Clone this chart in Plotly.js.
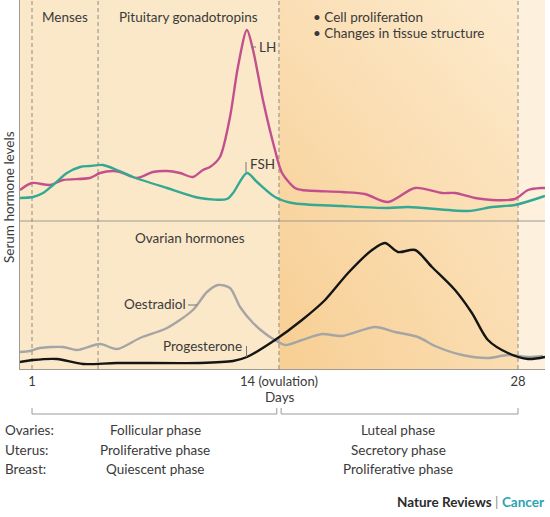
<!DOCTYPE html>
<html>
<head>
<meta charset="utf-8">
<script src="https://cdn.plot.ly/plotly-3.0.1.min.js"></script>
<style>html,body{margin:0;padding:0;background:#fff;}#chart{width:550px;height:517px;}</style>
</head>
<body>
<div id="chart"></div>
<script>
// ---- Data (days of cycle, arbitrary hormone levels) ----
const lhDay   = [0.33,1.0,2.0,2.72,4.22,4.78,5.5,5.89,6.83,7.72,8.5,9.22,9.94,10.5,10.89,11.44,12.0,12.44,12.94,13.28,13.83,14.5,14.89,15.61,16.0,18.22,19.5,20.78,22.28,23.78,24.5,25.61,26.56,27.83,28.56,29.33,29.5];
const lhLevel = [31,38,36,41,43,48,50,49,43,49,50,48,44,51,54,64,104,154,191,171,121,71,48,33,31,29,27,19,33,28,28,23,21,22,31,33,33];

const fshDay   = [0.33,1.06,1.61,2.17,2.94,3.67,4.22,4.94,5.72,6.61,8.5,10.33,11.83,12.17,12.94,13.5,14.5,15.44,18.22,20.78,21.89,25.22,26.56,27.83,29.33,29.5];
const fshLevel = [23,24,28,36,48,54,55,56,51,44,33,23,22,28,48,39,24,18,15,13,14,10,14,16,24,25];

const oeDay   = [0.33,0.89,1.44,2.72,3.5,4.78,5.72,7.0,8.5,9.94,10.72,11.33,12.0,12.56,13.28,14.06,14.5,15.06,16.0,17.11,18.22,20.06,21.17,22.44,23.39,24.89,26.33,27.44,28.56,29.39];
const oeLevel = [17,18,21,22,19,25,20,31,41,59,77,84,81,62,46,34,29,24,29,35,33,42,37,32,23,14,11,14,12,13];

const prDay   = [0.33,1.06,2.39,3.83,5.72,10.33,12.17,12.94,14.5,16.0,17.28,18.56,19.89,20.61,21.33,22.28,23.22,24.5,25.44,26.33,27.44,28.56,29.5];
const prLevel = [7,9,10,5,6,6,8,12,29,49,69,96,119,126,117,119,102,79,56,29,16,10,12];

// phase boundaries (days)
const cycleStart = 1;
const mensesEnd = 4.67;
const ovulation = 14.72;
const cycleEnd = 28;

const tickVals = [cycleStart, ovulation, cycleEnd];
const tickText = ['1', '14 (ovulation)', '28'];

const tissues = ['Ovaries:', 'Uterus:', 'Breast:'];
const follicularPhases = ['Follicular phase', 'Proliferative phase', 'Quiescent phase'];
const lutealPhases = ['Luteal phase', 'Secretory phase', 'Proliferative phase'];

// ---- Layout helpers (pixel -> paper) ----
const PL = 20, PW = 525, PT = 0, PH = 369;
const X = p => (p - PL) / PW;
const Y = p => (PT + PH - p) / PH;
const split = Y(221);

const FONT = 'Lato, "Open Sans", sans-serif';
const TXT = '#3a3a3a';
const XMIN = 0.333, XMAX = 29.5;

const traces = [];
// background gradient (luteal region)
traces.push({x:[ovulation,cycleEnd,cycleEnd,ovulation,ovulation], y:[0,0,1,1,0], xaxis:'x', yaxis:'y',
  mode:'lines', line:{width:0}, fill:'toself', hoverinfo:'skip', showlegend:false,
  fillgradient:{type:'horizontal', colorscale:[[0,'#f8d29b'],[1,'#fce5c2']]}});
traces.push({x:[ovulation,cycleEnd,cycleEnd,ovulation,ovulation], y:[0,0,1,1,0], xaxis:'x', yaxis:'y',
  mode:'lines', line:{width:0}, fill:'toself', hoverinfo:'skip', showlegend:false,
  fillgradient:{type:'vertical', colorscale:[[0,'rgba(245,196,125,0.25)'],[1,'rgba(255,246,228,0.35)']]}});
// dashed phase lines
[cycleStart, mensesEnd, ovulation, cycleEnd].forEach(d => {
  traces.push({x:[d,d], y:[0,1], xaxis:'x', yaxis:'y', mode:'lines', hoverinfo:'skip', showlegend:false,
    line:{color:'#8f8a84', width:1, dash:'4px,3px'}});
});
// hormone curves
traces.push({x:lhDay, y:lhLevel, xaxis:'x', yaxis:'y2', mode:'lines', name:'LH',
  line:{color:'#c2508d', width:2.4, shape:'spline', smoothing:0.8}});
traces.push({x:fshDay, y:fshLevel, xaxis:'x', yaxis:'y2', mode:'lines', name:'FSH',
  line:{color:'#33a893', width:2.4, shape:'spline', smoothing:0.8}});
traces.push({x:oeDay, y:oeLevel, xaxis:'x', yaxis:'y3', mode:'lines', name:'Oestradiol',
  line:{color:'#a5a5a5', width:2.4, shape:'spline', smoothing:0.8}});
traces.push({x:prDay, y:prLevel, xaxis:'x', yaxis:'y3', mode:'lines', name:'Progesterone',
  line:{color:'#151515', width:2.4, shape:'spline', smoothing:0.8}});

const shapes = [
  {type:'rect', xref:'x', yref:'paper', x0:XMIN, x1:ovulation, y0:0, y1:1, layer:'below', line:{width:0}, fillcolor:'#fbe8c8'},
  {type:'rect', xref:'x', yref:'paper', x0:cycleEnd, x1:XMAX, y0:0, y1:1, layer:'below', line:{width:0}, fillcolor:'#fdf1de'},
  {type:'line', xref:'paper', yref:'paper', x0:0, x1:1, y0:split, y1:split, layer:'above', line:{color:'#a09a94', width:1.2}},
  // pointer ticks
  {type:'line', xref:'paper', yref:'paper', x0:X(251), x1:X(256), y0:Y(47), y1:Y(47), line:{color:'#777', width:1}},
  {type:'line', xref:'paper', yref:'paper', x0:X(246), x1:X(246), y0:Y(162), y1:Y(172), line:{color:'#777', width:1}},
  {type:'line', xref:'paper', yref:'paper', x0:X(188), x1:X(197), y0:Y(305), y1:Y(305), line:{color:'#777', width:1}},
  {type:'line', xref:'paper', yref:'paper', x0:X(246.5), x1:X(246.5), y0:Y(346), y1:Y(357), line:{color:'#777', width:1}},
  // brackets
  {type:'path', xref:'x', yref:'paper', path:`M${cycleStart},${Y(408)} L${cycleStart},${Y(414)} L${ovulation-0.12},${Y(414)} L${ovulation-0.12},${Y(408)}`, line:{color:'#9a9a9a', width:1}},
  {type:'path', xref:'x', yref:'paper', path:`M${ovulation+0.12},${Y(408)} L${ovulation+0.12},${Y(414)} L${cycleEnd},${Y(414)} L${cycleEnd},${Y(408)}`, line:{color:'#9a9a9a', width:1}},
];

const ann = [];
const A = (text, px, py, xanchor, size, extra) => ann.push(Object.assign({text, xref:'paper', yref:'paper', x:X(px), y:Y(py),
  xanchor, yanchor:'middle', showarrow:false, font:{family:FONT, size, color:TXT}}, extra||{}));
A('Menses', 65, 17, 'center', 13.5);
A('Pituitary gonadotropins', 188, 17, 'center', 13.5);
A('• Cell proliferation', 311, 17, 'left', 13.5);
A('• Changes in tissue structure', 311, 33, 'left', 13.5);
A('LH', 257, 47, 'left', 13.5);
A('FSH', 248, 164, 'left', 13.5);
A('Ovarian hormones', 190, 238, 'center', 13.5);
A('Oestradiol', 188, 304, 'right', 13.5);
A('Progesterone', 244, 346, 'right', 13.5);
A('Serum hormone levels', 9, 197, 'center', 13.5, {textangle:-90});
A('Days', 279, 397, 'center', 13.5);
const rowsY = [430, 450, 469];
tissues.forEach((t,i) => A(t, 3, rowsY[i], 'left', 13.5));
follicularPhases.forEach((t,i) => ann.push({text:t, xref:'x', yref:'paper', x:(cycleStart+ovulation)/2, y:Y(rowsY[i]), xanchor:'center', yanchor:'middle', showarrow:false, font:{family:FONT, size:13.5, color:TXT}}));
lutealPhases.forEach((t,i) => ann.push({text:t, xref:'x', yref:'paper', x:(ovulation+cycleEnd)/2, y:Y(rowsY[i]), xanchor:'center', yanchor:'middle', showarrow:false, font:{family:FONT, size:13.5, color:TXT}}));
A('<b>Nature Reviews</b> <span style="color:#888">|</span> <b><span style="color:#2aa3b5">Cancer</span></b>', 546, 502, 'right', 13.5, {font:{family:FONT, size:13.5, color:'#2b2b2b'}});

const layout = {
  width:550, height:517,
  margin:{l:PL, r:550-PL-PW, t:PT, b:517-PT-PH, pad:0},
  paper_bgcolor:'#ffffff', plot_bgcolor:'rgba(0,0,0,0)',
  showlegend:false,
  xaxis:{range:[XMIN, XMAX], tickvals:tickVals, ticktext:tickText, showgrid:false, zeroline:false,
    showline:true, linecolor:'#a09a94', linewidth:1.2, ticks:'', tickfont:{family:FONT, size:13, color:TXT}, fixedrange:true},
  yaxis:{domain:[0,1], range:[0,1], visible:true, showticklabels:false, showgrid:false, zeroline:false,
    showline:true, linecolor:'#a09a94', linewidth:1.2, ticks:'', fixedrange:true},
  yaxis2:{domain:[split,1], range:[0,221], visible:false, fixedrange:true},
  yaxis3:{domain:[0,split], range:[0,148], visible:false, fixedrange:true},
  shapes, annotations:ann
};
Plotly.newPlot('chart', traces, layout, {staticPlot:true, displayModeBar:false});
</script>
</body>
</html>
